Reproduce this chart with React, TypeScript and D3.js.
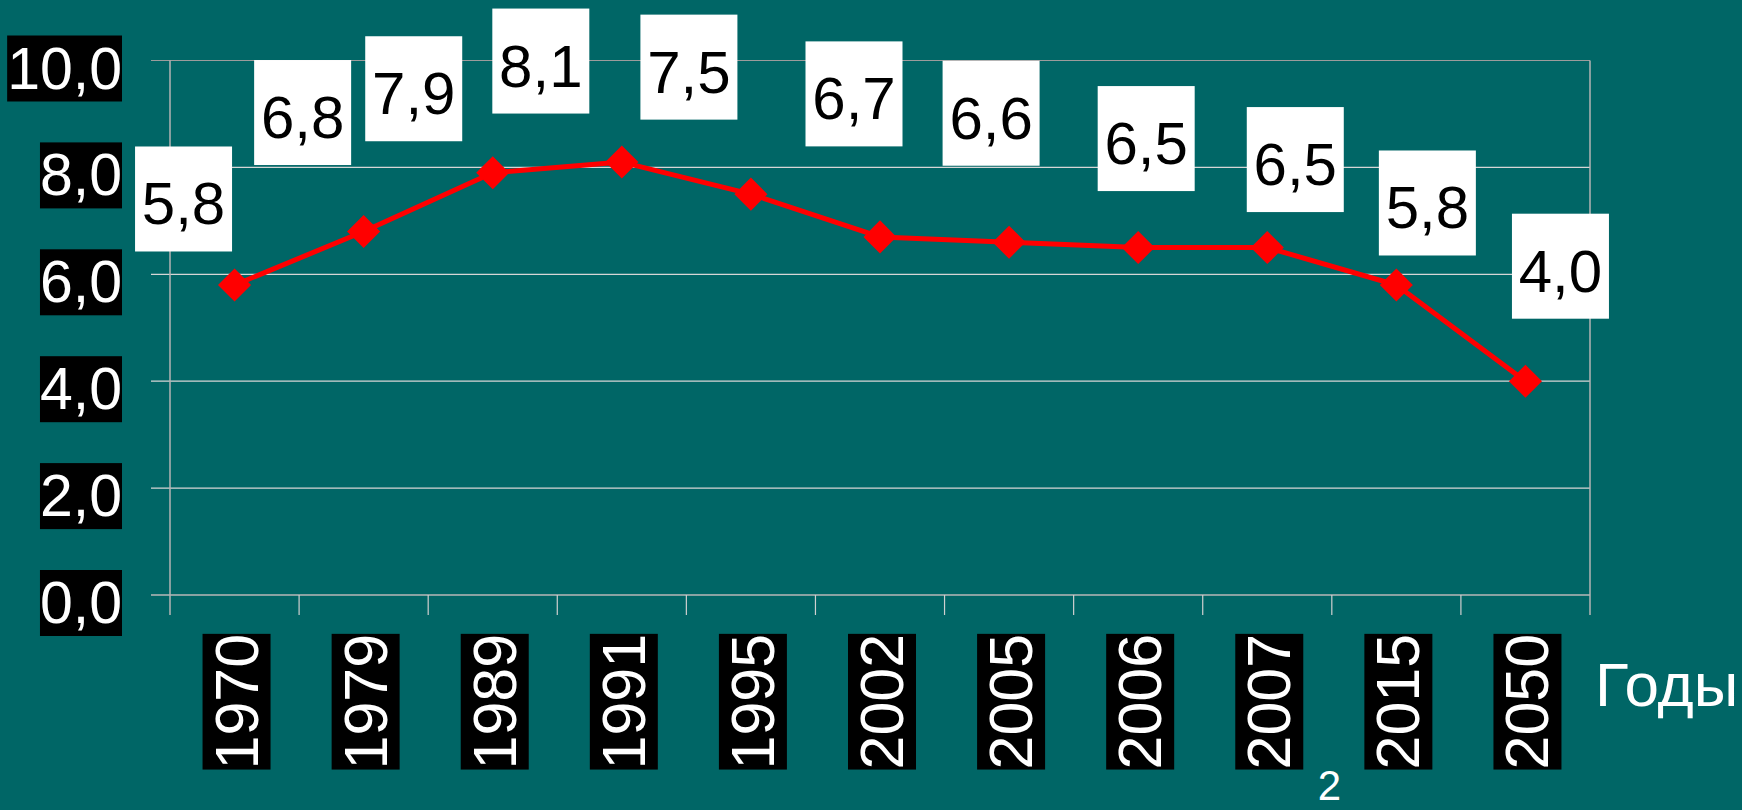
import React, { useEffect, useRef } from "react";
import * as d3 from "d3";

const years = ["1970", "1979", "1989", "1991", "1995", "2002", "2005", "2006", "2007", "2015", "2050"];
const values = [5.8, 6.8, 7.9, 8.1, 7.5, 6.7, 6.6, 6.5, 6.5, 5.8, 4.0];
const yTicks = [0, 2, 4, 6, 8, 10];
const axisTitle = "Годы";
const slideNumber = "2";

// layout: data-label box centre offset (px) from its point
const labelOffsets: [number, number][] = [
  [-51, -86], [-61, -119], [-79, -84], [-81, -101], [-62, -127], [-26, -143],
  [-18, -129], [8, -109], [28, -88], [31, -82], [35, -115],
];

const FONT = "'Liberation Sans', Arial, sans-serif";
const fmt = (v: number) => d3.format(".1f")(v).replace(".", ",");

export default function App() {
  const ref = useRef<SVGSVGElement>(null);
  useEffect(() => {
    const svg = d3.select(ref.current!);
    svg.selectAll("*").remove();
    const W = 1742, H = 810;
    svg.append("rect").attr("width", W).attr("height", H).attr("fill", "#006666");

    const x = d3.scaleBand<string>().domain(years).range([170, 1590]).padding(0);
    const y = d3.scaleLinear().domain([0, 10]).range([595, 60.5]);
    const bw = x.bandwidth();
    const cx = (yr: string) => (x(yr) as number) + bw / 2;

    // gridlines + y tick marks
    yTicks.forEach((t) => {
      svg.append("line")
        .attr("x1", 151).attr("x2", 1590)
        .attr("y1", y(t)).attr("y2", y(t))
        .attr("stroke", t === 10 ? "#9c9c9c" : t === 0 ? "#b8b8b8" : "#d6d6d6")
        .attr("stroke-width", t === 0 ? 1.5 : 1.2);
    });
    // left & right borders
    [170, 1590].forEach((xx) => {
      svg.append("line").attr("x1", xx).attr("x2", xx).attr("y1", y(10)).attr("y2", 615)
        .attr("stroke", "#b4b4b4").attr("stroke-width", 1.5);
    });
    // x tick marks at band boundaries
    years.forEach((yr, i) => {
      if (i === 0) return;
      const xx = x(yr) as number;
      svg.append("line").attr("x1", xx).attr("x2", xx).attr("y1", 595).attr("y2", 615)
        .attr("stroke", "#d0d0d0").attr("stroke-width", 1.2);
    });

    // y labels with black background
    yTicks.forEach((t) => {
      const g = svg.append("g");
      const txt = g.append("text")
        .attr("x", 122).attr("y", y(t) + 28)
        .attr("text-anchor", "end")
        .attr("font-family", FONT).attr("font-size", 59)
        .attr("fill", "#ffffff")
        .text(fmt(t));
      const bb = (txt.node() as SVGTextElement).getBBox();
      g.insert("rect", "text").attr("x", bb.x).attr("y", bb.y)
        .attr("width", bb.width).attr("height", bb.height).attr("fill", "#000000");
    });

    // x labels rotated, black background
    years.forEach((yr) => {
      const g = svg.append("g").attr("transform", `translate(${cx(yr) + 23},701.7) rotate(-90)`);
      const txt = g.append("text")
        .attr("x", 0).attr("y", 0)
        .attr("text-anchor", "middle")
        .attr("font-family", FONT).attr("font-size", 61)
        .attr("fill", "#ffffff")
        .text(yr);
      const bb = (txt.node() as SVGTextElement).getBBox();
      g.insert("rect", "text").attr("x", bb.x).attr("y", bb.y)
        .attr("width", bb.width).attr("height", bb.height).attr("fill", "#000000");
    });

    // line
    const line = d3.line<number>().x((_, i) => cx(years[i])).y((d) => y(d));
    svg.append("path").attr("d", line(values) as string)
      .attr("fill", "none").attr("stroke", "#ff0000").attr("stroke-width", 5)
      .attr("stroke-linejoin", "round");

    // diamond markers
    const sym = d3.symbol().type(d3.symbolSquare).size(2 * 11.7 * 11.7 * 2);
    values.forEach((v, i) => {
      svg.append("path").attr("d", sym() as string)
        .attr("transform", `translate(${cx(years[i])},${y(v)}) rotate(45)`)
        .attr("fill", "#ff0000");
    });

    // data labels
    const BW = 97, BH = 105;
    values.forEach((v, i) => {
      const px = cx(years[i]) + labelOffsets[i][0];
      const py = y(v) + labelOffsets[i][1];
      svg.append("rect").attr("x", px - BW / 2).attr("y", py - BH / 2)
        .attr("width", BW).attr("height", BH).attr("fill", "#ffffff");
      svg.append("text").attr("x", px).attr("y", py - BH / 2 + 78)
        .attr("text-anchor", "middle")
        .attr("font-family", FONT).attr("font-size", 60)
        .attr("fill", "#000000")
        .text(fmt(v));
    });

    // axis title
    svg.append("text").attr("x", 1595).attr("y", 706)
      .attr("font-family", FONT).attr("font-size", 62).attr("fill", "#ffffff")
      .text(axisTitle);
    // slide number
    svg.append("text").attr("x", 1329.5).attr("y", 800).attr("text-anchor", "middle")
      .attr("font-family", FONT).attr("font-size", 42).attr("fill", "#ffffff")
      .text(slideNumber);
  }, []);
  return (
    <svg ref={ref} width={1742} height={810}
      style={{ position: "fixed", left: 0, top: 0, display: "block" }} />
  );
}
